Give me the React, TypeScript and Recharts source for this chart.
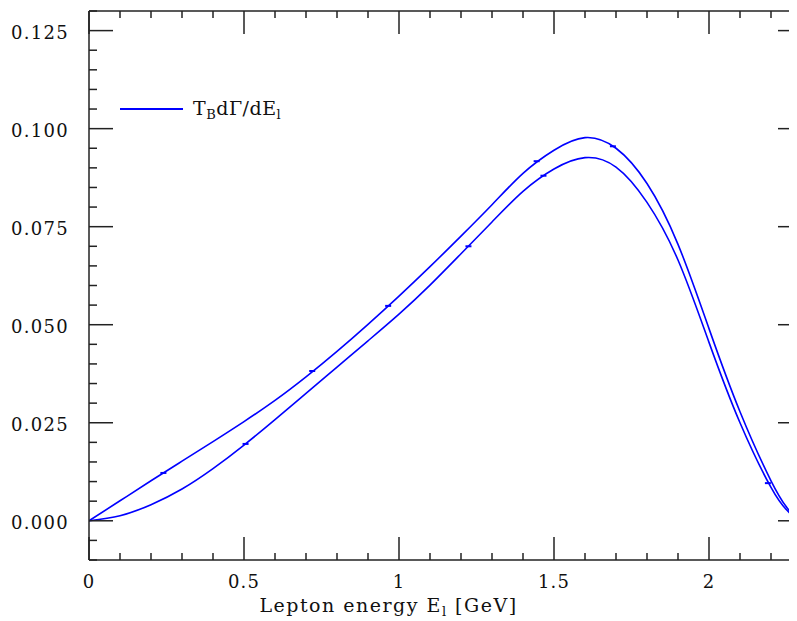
import React from 'react';
import { ComposedChart, Line, Scatter, XAxis, YAxis, Legend } from 'recharts';

// Lepton energy grid (GeV)
const energies = [0, 0.1, 0.2, 0.3, 0.4, 0.5, 0.6, 0.7, 0.8, 0.9, 1.0, 1.1, 1.2, 1.3, 1.4, 1.5, 1.6, 1.7, 1.8, 1.9, 2.0, 2.1, 2.2, 2.25, 2.285];
// Upper band edge of T_B dΓ/dE_l
const upperRate = [0, 0.0051, 0.0102, 0.0152, 0.0202, 0.0253, 0.0307, 0.0367, 0.0432, 0.0501, 0.0573, 0.0648, 0.0726, 0.0806, 0.0886, 0.0945, 0.0977, 0.0950, 0.0860, 0.0705, 0.0490, 0.0278, 0.0102, 0.0035, 0];
// Lower band edge of T_B dΓ/dE_l
const lowerRate = [0, 0.0013, 0.0041, 0.0081, 0.0133, 0.0193, 0.0258, 0.0325, 0.0392, 0.0459, 0.0527, 0.0601, 0.0681, 0.0762, 0.0840, 0.0897, 0.0926, 0.0902, 0.0812, 0.0665, 0.0455, 0.0250, 0.0085, 0.0028, 0];

// small error-bar marks sitting on the curves
const markE = [0.24, 0.72, 0.965, 1.444, 1.69, 0.505, 1.224, 1.466, 2.19];
const markRate = [0.0122, 0.0382, 0.0548, 0.0917, 0.0955, 0.0196, 0.0700, 0.0880, 0.0096];

const xTicks = [0, 0.1, 0.2, 0.3, 0.4, 0.5, 0.6, 0.7, 0.8, 0.9, 1.0, 1.1, 1.2, 1.3, 1.4, 1.5, 1.6, 1.7, 1.8, 1.9, 2.0, 2.1, 2.2, 2.3];
const yTicks = [-0.01, -0.005, 0, 0.005, 0.01, 0.015, 0.02, 0.025, 0.03, 0.035, 0.04, 0.045, 0.05, 0.055, 0.06, 0.065, 0.07, 0.075, 0.08, 0.085, 0.09, 0.095, 0.1, 0.105, 0.11, 0.115, 0.12, 0.125, 0.13];

const xLabel = 'Lepton energy E';
const xLabelSub = 'l';
const xLabelTail = ' [GeV]';

const curveData = energies.map((e, i) => ({ x: e, upper: upperRate[i], lower: lowerRate[i] }));
const markData = markE.map((e, i) => ({ x: e, y: markRate[i] }));

const BLUE = '#0000ff';
const AXIS = '#222';
const SERIF = '"DejaVu Serif", "Liberation Serif", serif';

const isMajorX = (v: number) => Math.abs(v * 2 - Math.round(v * 2)) < 1e-6;
const isMajorY = (v: number) => Math.abs(v / 0.025 - Math.round(v / 0.025)) < 1e-6;

const BottomTick = (p: any) => {
  const { x, y, payload } = p;
  const v = payload.value;
  const major = isMajorX(v);
  return (
    <g>
      <line x1={x} y1={y} x2={x} y2={y - (major ? 23 : 7)} stroke={AXIS} strokeWidth={1.5} />
      {major && (
        <text x={x} y={y + 28} textAnchor="middle" fontFamily={SERIF} fontSize={18} letterSpacing={1.2} fill="#111">
          {String(Math.round(v * 10) / 10)}
        </text>
      )}
    </g>
  );
};

const TopTick = (p: any) => {
  const { x, y, payload } = p;
  const major = isMajorX(payload.value);
  return <line x1={x} y1={y} x2={x} y2={y + (major ? 23 : 7)} stroke={AXIS} strokeWidth={1.5} />;
};

const LeftTick = (p: any) => {
  const { x, y, payload } = p;
  const v = payload.value;
  const major = isMajorY(v);
  return (
    <g>
      <line x1={x} y1={y} x2={x + (major ? 24 : 8)} y2={y} stroke={AXIS} strokeWidth={1.5} />
      {major && (
        <text x={x - 20} y={y + 8} textAnchor="end" fontFamily={SERIF} fontSize={18} letterSpacing={1.3} fill="#111">
          {v.toFixed(3)}
        </text>
      )}
    </g>
  );
};

const RightTick = (p: any) => {
  const { x, y, payload } = p;
  const major = isMajorY(payload.value);
  return <line x1={x} y1={y} x2={x - (major ? 24 : 8)} y2={y} stroke={AXIS} strokeWidth={1.5} />;
};

const XLabel = (p: any) => {
  const vb = p.viewBox || { x: 0, y: 0 };
  return (
    <text x={vb.x + 299.5} y={vb.y + 52} textAnchor="middle" fontFamily={SERIF} fontSize={19} letterSpacing={1.5} fill="#111">
      {xLabel}
      <tspan fontSize={13} dy={4}>{xLabelSub}</tspan>
      <tspan dy={-4}>{xLabelTail}</tspan>
    </text>
  );
};

const MarkShape = (p: any) => {
  const { cx, cy } = p;
  return <line x1={cx - 3} y1={cy} x2={cx + 3} y2={cy} stroke={BLUE} strokeWidth={2} />;
};

const LegendContent = () => (
  <div style={{ display: 'flex', alignItems: 'center', height: 24, fontFamily: SERIF, fontSize: 19, color: '#111' }}>
    <div style={{ width: 63, height: 1.5, background: BLUE }} />
    <span style={{ marginLeft: 10, whiteSpace: 'nowrap', lineHeight: '24px', letterSpacing: 0.5 }}>
      T<span style={{ fontSize: 13, position: 'relative', top: 4 }}>B</span>dΓ/dE
      <span style={{ fontSize: 13, position: 'relative', top: 4 }}>l</span>
    </span>
  </div>
);

export default function App() {
  return (
    <div style={{ width: 789, height: 613, overflow: 'hidden' }}>
      <ComposedChart width={800} height={613} data={curveData} margin={{ top: 2, right: 0, bottom: 0, left: 0 }}>
        <XAxis
          dataKey="x"
          type="number"
          domain={[0, 2.3]}
          allowDataOverflow
          ticks={xTicks}
          interval={0}
          tickSize={0}
          tickMargin={0}
          tickLine={false}
          tick={BottomTick}
          height={61}
          axisLine={{ stroke: AXIS, strokeWidth: 1.5 }}
          label={{ value: 'x', content: XLabel }}
        />
        <XAxis
          xAxisId="top"
          orientation="top"
          dataKey="x"
          type="number"
          domain={[0, 2.3]}
          allowDataOverflow
          ticks={xTicks}
          interval={0}
          tickSize={0}
          tickMargin={0}
          tickLine={false}
          tick={TopTick}
          height={1}
          axisLine={{ stroke: AXIS, strokeWidth: 1.5 }}
        />
        <YAxis
          type="number"
          domain={[-0.01, 0.13]}
          allowDataOverflow
          ticks={yTicks}
          interval={0}
          tickSize={0}
          tickMargin={0}
          tickLine={false}
          tick={LeftTick}
          width={81}
          axisLine={{ stroke: AXIS, strokeWidth: 1.5 }}
        />
        <YAxis
          yAxisId="right"
          orientation="right"
          type="number"
          domain={[-0.01, 0.13]}
          allowDataOverflow
          ticks={yTicks}
          interval={0}
          tickSize={0}
          tickMargin={0}
          tickLine={false}
          tick={RightTick}
          width={6}
          axisLine={{ stroke: AXIS, strokeWidth: 1.5 }}
        />
        <Legend
          layout="vertical"
          verticalAlign="middle"
          align="center"
          content={LegendContent}
          wrapperStyle={{ position: 'absolute', left: 112, top: 89, width: 'auto' }}
        />
        <Line type="natural" dataKey="upper" name="TBdΓ/dEl" stroke={BLUE} strokeWidth={1.6} dot={false} isAnimationActive={false} />
        <Line type="natural" dataKey="lower" name="lower" legendType="none" stroke={BLUE} strokeWidth={1.6} dot={false} isAnimationActive={false} />
        <Scatter data={markData} dataKey="y" legendType="none" shape={MarkShape} isAnimationActive={false} />
      </ComposedChart>
    </div>
  );
}
